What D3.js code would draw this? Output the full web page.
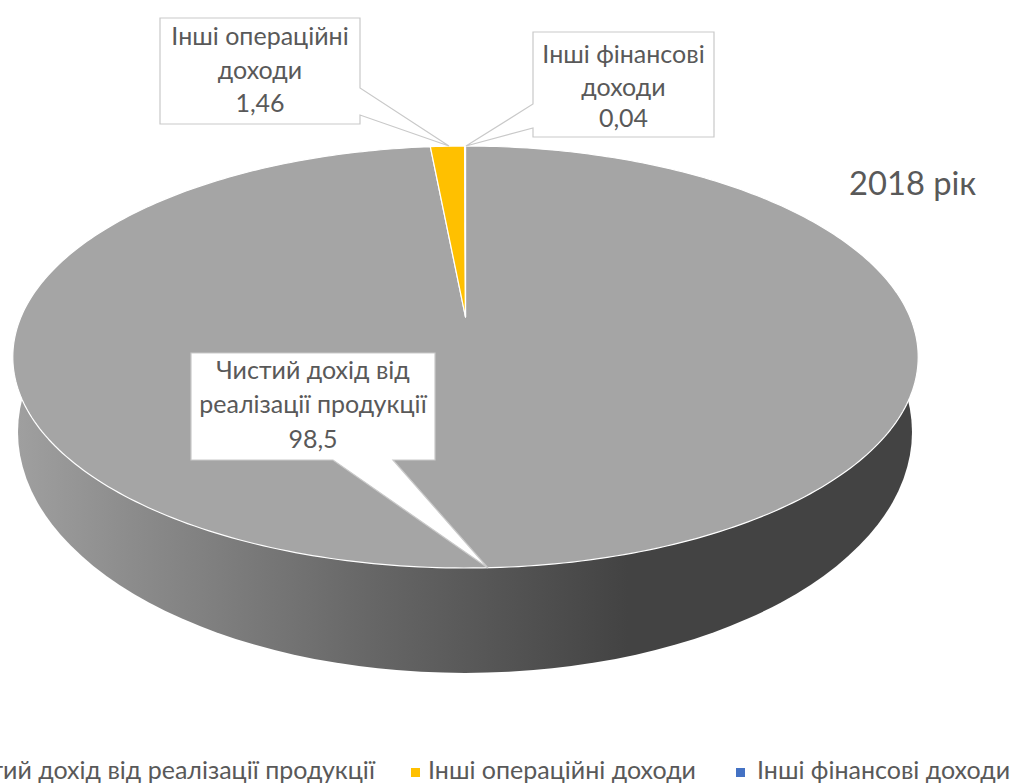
<!DOCTYPE html>
<html><head><meta charset="utf-8">
<script src="https://cdn.jsdelivr.net/npm/d3@7"></script>
<style>html,body{margin:0;padding:0;background:#fff;overflow:hidden}svg{display:block}text{font-family:Lato,"Noto Sans",sans-serif;fill:#595959}</style>
</head><body><svg id="c" width="1013" height="783"></svg>
<script>
const categories=["Чистий дохід від реалізації продукції","Інші операційні доходи","Інші фінансові доходи"];
const values=[98.5,1.46,0.04];
const colors=["#a5a5a5","#ffc000","#4472c4"];
const labelLines=[["Чистий дохід від","реалізації продукції","98,5"],["Інші операційні","доходи","1,46"],["Інші фінансові","доходи","0,04"]];
const title="2018 рік";

const svg=d3.select("#c");
const X=465.5,Y=317,A=444.5,B=203.4,P=0.1896;
const project=a=>{const u=Math.sin(a),v=Math.cos(a),w=1+P*v;return [X+A*u/w,Y-B*v/w];};

const defs=svg.append("defs");
const g=defs.append("linearGradient").attr("id","side").attr("gradientUnits","userSpaceOnUse").attr("x1",13).attr("x2",917).attr("y1",0).attr("y2",0);
[[0,"#a0a0a0"],[.13,"#8c8c8c"],[.4,"#666"],[.68,"#434343"],[1,"#434343"]].forEach(s=>g.append("stop").attr("offset",s[0]).attr("stop-color",s[1]));

svg.append("ellipse").attr("cx",465).attr("cy",432).attr("rx",447).attr("ry",241).attr("fill","url(#side)");

const pie=d3.pie().sort(null)(values);
const line=d3.line();
svg.append("g").selectAll("path").data(pie).join("path")
 .attr("d",d=>{
   const n=Math.max(2,Math.ceil((d.endAngle-d.startAngle)*60));
   const rim=d3.range(n+1).map(i=>project(d.startAngle+(d.endAngle-d.startAngle)*i/n));
   return line([[X,Y],...rim])+"Z";
 })
 .attr("fill",(d,i)=>colors[i]).attr("stroke","#fff").attr("stroke-width",1.2).attr("stroke-linejoin","round");

const boxes=[
 {x:191,y:353,w:244,h:107,tail:[[333,460],[488,568],[393,460]],ty:[379,413,448]},
 {x:160,y:18,w:200,h:106,tail:[[360,88],[449,146],[360,115]],ty:[45,79,112]},
 {x:533,y:32,w:181,h:105,tail:[[533,104],[466,146],[533,128]],ty:[63,96,127]}
];
const lab=svg.append("g").selectAll("g").data(boxes).join("g");
lab.append("path").attr("d",b=>{
  const [t0,tip,t1]=b.tail, onRight=t0[0]===b.x+b.w, onLeft=t0[0]===b.x;
  const c=[[b.x,b.y],[b.x+b.w,b.y]];
  if(onRight)c.push(t0,tip,t1);
  c.push([b.x+b.w,b.y+b.h]);
  if(!onRight&&!onLeft)c.push(t1,tip,t0);
  c.push([b.x,b.y+b.h]);
  if(onLeft)c.push(t1,tip,t0);
  return line(c)+"Z";
}).attr("fill","#fff").attr("stroke","#c9c9c9").attr("stroke-width",1.2);
lab.each(function(b,i){
  d3.select(this).selectAll("text").data(labelLines[i]).join("text")
   .attr("x",b.x+b.w/2).attr("y",(d,j)=>b.ty[j]).attr("text-anchor","middle").attr("font-size",25).text(d=>d);
});

svg.append("text").attr("x",849).attr("y",195).attr("font-size",32.7).text(title);

const leg=[{tx:375,anchor:"end"},{mx:411,tx:428,anchor:"start"},{mx:736,tx:757,anchor:"start"}];
const lg=svg.append("g").selectAll("g").data(categories).join("g");
lg.filter((d,i)=>i>0).append("rect").attr("x",(d,i)=>leg[i+1].mx).attr("y",768).attr("width",9).attr("height",9).attr("fill",(d,i)=>colors[i+1]);
lg.append("text").attr("x",(d,i)=>leg[i].tx).attr("y",779).attr("text-anchor",(d,i)=>leg[i].anchor).attr("font-size",25).text(d=>d);
</script></body></html>
